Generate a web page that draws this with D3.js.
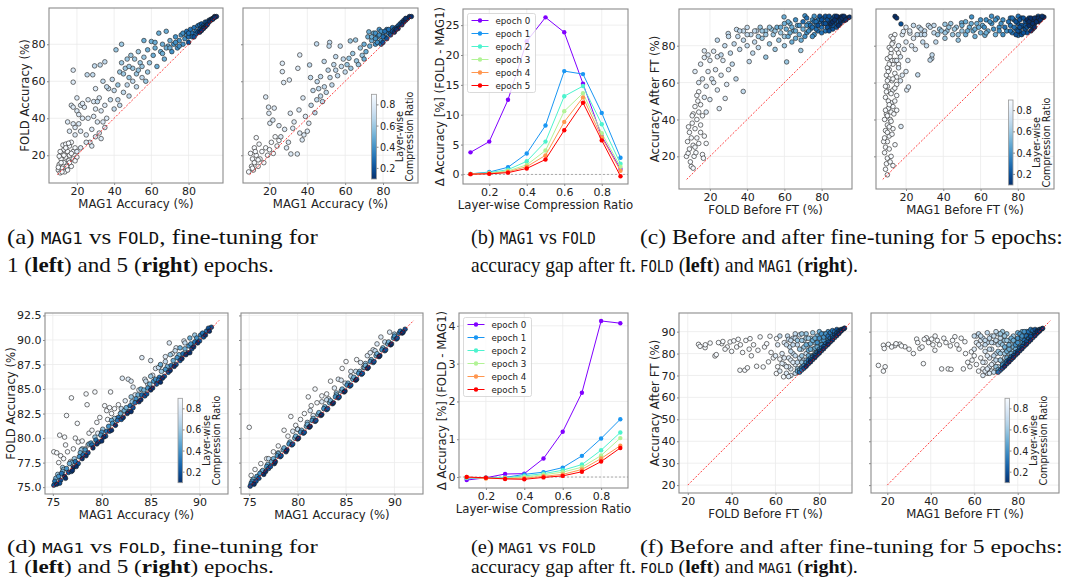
<!DOCTYPE html>
<html>
<head>
<meta charset="utf-8">
<script src="https://cdn.jsdelivr.net/npm/d3@7"></script>
<style>
body { margin: 0; background: #fff; }
svg { display: block; }
text { font-family: 'DejaVu Sans', sans-serif; fill: #222; white-space: pre; }
</style>
</head>
<body>
<div id="fig"></div>
<script>
// ---- data: layer-wise compression ratios and accuracy gaps (FOLD - MAG1) ----
const ratios = [0.1, 0.2, 0.3, 0.4, 0.5, 0.6, 0.7, 0.8, 0.9];
const epochNames = ['epoch 0', 'epoch 1', 'epoch 2', 'epoch 3', 'epoch 4', 'epoch 5'];
const epochColors = ['#8000ff', '#1996f3', '#4df3ce', '#b2f396', '#ff964f', '#ff0000'];

// (b) gap per epoch, top row
const gapTop = [
  [3.7, 5.5, 12.5, 22.3, 26.3, 23.8, 15.2, 6.4, 0.9],
  [0.1, 0.4, 1.2, 3.5, 8.2, 17.3, 16.8, 10.3, 2.8],
  [0.1, 0.3, 0.8, 2.2, 5.5, 13.1, 14.8, 8.4, 1.8],
  [0.1, 0.2, 0.6, 1.6, 4.0, 10.6, 13.6, 6.9, 1.3],
  [0.05, 0.15, 0.45, 1.3, 3.2, 8.8, 12.9, 6.2, 0.6],
  [0.05, 0.1, 0.3, 1.0, 2.5, 7.4, 12.0, 5.7, -0.3]
];
// (e) gap per epoch, bottom row
const gapBottom = [
  [-0.08, -0.02, 0.08, 0.09, 0.49, 1.2, 2.23, 4.13, 4.07],
  [-0.03, -0.02, -0.01, 0.07, 0.13, 0.25, 0.56, 1.02, 1.53],
  [-0.02, -0.02, -0.02, 0.03, 0.09, 0.18, 0.33, 0.71, 1.18],
  [-0.01, -0.03, -0.03, 0.0, 0.06, 0.13, 0.26, 0.57, 1.03],
  [0.0, -0.04, -0.04, -0.03, 0.02, 0.07, 0.2, 0.49, 0.83],
  [0.0, -0.02, -0.05, -0.06, -0.01, 0.03, 0.14, 0.41, 0.77]
];

// scatter points: [x, y, compression ratio]
const aLeftPts = [
  [10,12,.9],[10.5,15,.9],[11,10.5,.9],[11.5,18,.9],[12,13,.9],[12,21,.9],[12.5,25.5,.9],[13,16,.9],[13,23,.9],[13.5,11,.9],
  [14,19,.9],[14,26,.9],[14.5,14,.9],[15,22,.9],[15,12,.9],[15.5,17,.9],[16,25,.9],[16,20,.9],[17,27,.9],[17,14,.9],
  [18,22,.9],[18,18,.9],[19,24,.9],[20,19,.9],[11,22,.9],[13,20,.9],[16,16,.9],[12,11,.9],[10,13.5,.9],[11.5,16,.9],
  [14,24,.9],[17,21,.9],[19,17,.9],[15.5,26.5,.9],[10.5,19.5,.9],
  [15,38,.8],[16,33,.8],[17,47,.8],[18,37,.8],[18,46,.8],[19,35,.8],[20,44,.8],[20,51,.8],[21,42,.8],[22,47,.8],
  [22,33,.8],[23,40,.8],[24,46,.8],[25,31,.8],[26,40,.8],[26,50,.8],[27,27,.8],[28,34,.8],[29,41,.8],[29,49,.8],
  [30,56,.8],[30,30,.8],[31,38,.8],[32,51,.8],[33,44,.8],[34,38,.8],[35,47,.8],[36,40,.8],[28,25,.8],[25,27,.8],
  [22,24,.8],[20,22,.8],[18,66,.8],[18,59.5,.8],[23,48,.8],[19,31,.8],[21,37,.8],[32,32,.8],[33,29,.8],[30,45,.8],[35,35,.8],
  [25.5,63.5,.7],[28.5,63.5,.7],[29.5,68.3,.7],[32.5,68.8,.7],[35,70.5,.7],[34,60,.7],[37,56,.7],[38,50,.7],[39,61,.7],
  [40,55,.7],[40,45,.7],[42,50,.7],[45,54,.7],[47,58,.7],[50,60,.7],[52,57,.7],[55,62,.7],[48,52,.7],[43,47,.7],[36,57,.7],[31,49,.7],
  [41,77,.6],[42,58,.6],[43,65,.6],[44,80,.6],[44,70,.6],[46,67,.6],[47,72,.6],[48,62,.6],[49,74,.6],[50,67,.6],[51,72,.6],
  [52,64,.6],[53,76,.6],[54,70,.6],[55,68,.6],[56,73,.6],[57,60,.6],[59,70,.6],[45,64,.6],[48,68,.6],[53,66,.6],[58,65,.6],
  [56,82,.5],[58,77,.5],[60,81.5,.5],[61,74,.5],[62,78,.5],[63,68,.5],[64,86,.5],[65,76,.5],[66,80,.5],[68,87,.5],[67,72,.5],
  [69,79,.5],[70,82,.5],[62,81,.5],[66,75,.5],[68,78,.5],[70,78,.5],
  [71,76,.4],[72,80,.4],[73,84,.4],[74,78,.4],[75,82,.4],[76,85,.4],[77,80,.4],[78,83,.4],[73,81,.4],[75,79,.4],[77,86,.4],[79,85,.4],
  [79,87,.3],[80,84,.3],[81,88,.3],[82,86,.3],[83,89,.3],[84,87,.3],[85,90,.3],[80,86,.3],[82,84,.3],[84,85.5,.3],[86,90.5,.3],[87,89,.3],
  [86,88,.2],[87,91,.2],[88,90,.2],[89,92,.2],[90,91,.2],[91,93,.2],[83,84,.2],[80,81,.2],[85,86.5,.2],[88,89,.2],[90,92,.2],[92,93.5,.2],
  [92,93,.1],[93,94,.1],[94,95,.1],[95,95,.1],[89,89.5,.1],[86,86.5,.1],[91,92,.1],[88,88.5,.1],[90,90.5,.1],[93,93.5,.1],[94,94.5,.1],[87,87.5,.1]
];
const aRightPts = [
  [9,11,.9],[10,21,.9],[10.5,14,.9],[11,18,.9],[11.5,12,.9],[12,16,.9],[12,24,.9],[13,29.5,.9],[13,20,.9],[14,14,.9],
  [14.5,26,.9],[15,18,.9],[16,22,.9],[17,16,.9],[18,24,.9],[19,20,.9],[20,23,.9],[21,27,.9],[22,21,.9],[23,30,.9],
  [24,25,.9],[25,28,.9],[11,13,.9],[12.5,22,.9],[14,17.5,.9],
  [18,51.5,.8],[19.5,46,.8],[22.5,45.5,.8],[19.7,42.7,.8],[20.2,37.3,.8],[21.8,39,.8],[26.8,69.7,.8],[26.8,65.2,.8],
  [27.5,59.3,.8],[30.5,60.7,.8],[35,67,.8],[36,74.2,.8],[31,42.7,.8],[32.3,34.6,.8],[34.7,20.7,.8],[31.3,20.7,.8],
  [37.7,51,.8],[35.6,44.5,.8],[39,41,.8],[40.8,37.3,.8],[38.2,31,.8],[37.3,28.3,.8],[28,34,.8],[26,30,.8],[30,27,.8],
  [33,38,.8],[25,36,.8],[29,24,.8],[36,32,.8],[40,33,.8],
  [41.2,68.8,.7],[41.7,62,.7],[44.9,80.2,.7],[48.9,70.7,.7],[51.8,81,.7],[51.5,79,.7],[57.4,79,.7],[55,73.3,.7],
  [45.2,59.8,.7],[47,62.5,.7],[43,55,.7],[45,50,.7],[42,47,.7],[44,43,.7],[47,52,.7],[49,57,.7],[50,54,.7],[52,62,.7],
  [53,58,.7],[55,66,.7],[56,63,.7],[58,68,.7],[59,72,.7],[60,65,.7],[46,56,.7],[48,49,.7],[51,66,.7],[54,69,.7],
  [62,72.4,.6],[62.7,81.8,.6],[65.5,82.3,.6],[72.5,86.7,.5],[61,69,.6],[63,67,.6],[64,75,.6],[66,71,.6],[68,78,.6],
  [69,74,.6],[70,80,.5],[71,76,.5],[72,84,.5],[73,79,.5],[74,82,.5],[75,86,.5],[67,69,.6],[70,72,.5],
  [76,80,.4],[77,84,.4],[78,88,.4],[79,82,.4],[80,86,.4],[81,84,.3],[82,88,.3],[83,86,.3],[84,87,.3],[85,89,.3],[76,86,.4],[79,87,.4],
  [86,88,.2],[87,89,.2],[88,90,.2],[89,91,.2],[90,92,.2],[91,92,.1],[92,93,.1],[93,94,.1],[94,95,.1],[95,95,.1],
  [84,85,.2],[82,83,.2],[80,81,.2],[86,86.5,.1],[88,88.5,.1],[90,90.5,.1],[85,87,.2],[87,88,.1],[91,93,.2],[92,94,.1],
  [74,84,.5],[76,83,.4],[78,85,.4],[80,84,.3],[81,87,.3],[83,88,.3],[77,81,.4],[79,80,.3]
];
const cLeftPts = [
  [7.4,20,.9],[8.3,21.7,.9],[8,28,.9],[9,24,.9],[9,33,.9],[10,14.5,.9],[10,30,.9],[10.5,38,.9],[11,13.6,.9],[11,26,.9],
  [11,43,.9],[11.5,20,.9],[12,35,.9],[12,47,.9],[12.5,22,.9],[13,40,.9],[13,30,.9],[13.5,50,.9],[14,27,.9],[14,44,.9],
  [15,37,.9],[15,33,.9],[16,21,.9],[16.5,19,.9],[17,31,.9],[18,27,.9],[9.5,17,.9],[10.5,42,.9],[12,25,.9],[8.5,36,.9],
  [14,55,.9],[13,53,.9],[15,48,.9],[16,42,.9],
  [12,66,.8],[17,77.2,.8],[17,73.6,.8],[15,70,.8],[16,62,.8],[14,60,.8],[18,58,.8],[19,66,.8],[20,50.8,.8],[20,72,.8],
  [21,62,.8],[22,77,.8],[23,67,.8],[24,56,.8],[25,45.9,.8],[26,64,.8],[27,72,.8],[28.2,51.4,.8],[29,59,.8],[30,67,.8],
  [22,60,.8],[18,44,.8],[19,75,.8],[17,52,.8],[24,74,.8],
  [24,83,.7],[29.8,86.6,.7],[34.3,88.8,.7],[40,89.9,.7],[37.9,55.2,.7],[34,62,.7],[41.1,71.4,.7],[31,76,.7],[33,81,.7],
  [35,85,.7],[36,78,.7],[38,83,.7],[40,80,.7],[42,86,.7],[43,76,.7],[44,82,.7],[28,80,.7],[26,75,.7],[32,70,.7],[30,85,.7],[45,88,.7],[46,79,.7],
  [50,73.8,.6],[61.2,71.2,.6],[68.8,77.4,.6],[59.8,95.6,.5],[48,84,.6],[50,88,.6],[52,81,.6],[54,86,.6],[55,78,.6],[56,90,.5],
  [57,83,.6],[58,87,.6],[60,80,.6],[61,89,.5],[62,85,.5],[63,92,.5],[64,82,.5],[65,88,.5],[66,84,.5],[67,91,.5],[68,86,.5],
  [70,89,.5],[53,89,.6],[47,90,.6],
  [71,96.2,.4],[72,87,.4],[73,92,.4],[74,89,.4],[75,94,.4],[76,86,.4],[77,91,.4],[78,88,.3],[79,93,.3],[80,90,.3],[81,95,.3],
  [82,88,.3],[83,92,.3],[84,90,.3],[85,94,.3],[72,91,.4],[76,96,.4],[78,94,.3],
  [84,93,.2],[85,91,.2],[86,95,.2],[87,92,.2],[88,94,.2],[89,93,.2],[90,95,.1],[91,94,.1],[92,95,.1],[93,95,.1],[94,95,.1],
  [95,95.5,.1],[86,89,.2],[88,90,.2],[90,92,.1],[92,93.5,.1],[83,90,.2],[87,96,.2],[89,95.5,.1],[91,96,.1],
  [70,93,.3],[72,95,.3],[74,91,.3],[76,93,.3],[78,91,.2],[79,96,.2],[80,94,.2],[81,92,.2],[82,96,.2],[83,94,.2],[84,96,.2],
  [85,92,.1],[86,93,.1],[87,94,.1],[88,96,.1],[89,91,.1],[90,94,.1],[91,95,.1],[92,96,.1],[93,94,.1],[84,88,.2],[80,87,.3],
  [77,89,.3],[75,90,.3],[82,92,.2],[86,91,.2],[68,91,.4],[66,94,.4],[64,90,.5],[62,93,.5],[60,92,.5],[58,90,.5],[55,88,.6],
  [52,90,.6],[50,86,.6],[48,88,.6],[46,85,.6],[44,88,.7],[40,86,.7],[38,88,.7],[36,88,.7],[60,85,.6],[63,87,.5],[66,88,.5],
  [69,83,.5],[71,85,.4],[73,88,.4],[75,85,.4],[77,93,.3]
];
const cRightPts = [
  [9,13,.9],[9.5,16,.9],[10,19,.9],[8.5,22,.9],[9,25,.9],[10,28,.9],[11,31,.9],[9,34,.9],[10,37,.9],[11.5,40,.9],
  [9.5,43,.9],[10.5,46,.9],[12,49,.9],[9,52,.9],[11,55,.9],[10,58,.9],[12.5,61,.9],[9.5,64,.9],[11,67,.9],[13,70,.9],
  [10,73,.9],[12,76,.9],[11,79,.9],[13,82,.9],[12,85,.9],[14.1,26.3,.9],[12,20,.9],[11,24,.9],[13,35,.9],[12,44,.9],
  [14,50,.9],[13,56,.9],[15,59,.9],[14,65,.9],[12.5,72,.9],[15,78,.9],[14,86,.9],[8,28,.9],[10.5,50,.9],[11,62,.9],
  [13.5,43,.9],[15,53,.9],[12.5,32,.9],[10,68,.9],[8.5,40,.9],[11.5,17,.9],[10,10,.9],[13,15,.9],
  [8.5,30,.9],[9,45,.9],[9.5,55,.9],[10,61,.9],[10.5,66,.9],[11,70,.9],[11.5,74,.9],[12,78,.9],[12.5,81,.9],[13,84,.9],
  [10,33,.9],[11,36,.9],[12,39,.9],[13,47,.9],[14,57,.9],[15,63,.9],[16,70,.9],[16,76,.9],[14,72,.9],[13,62,.9],
  [11,48,.9],[9,58,.9],[12,54,.9],[15,45,.9],[10,42,.9],
  [17.3,36.2,.8],[20.4,56,.8],[21.3,57.6,.8],[16,80,.8],[17,74,.8],[18,86,.8],[18.6,87.7,.8],[19,78,.8],[20,82,.8],
  [21,72,.8],[22.1,86.8,.8],[23,80,.8],[16,68,.8],[18,64,.8],[24,84,.8],[25,78,.8],[26.3,64.2,.7],[17,61,.8],[15,72,.8],[20,66,.8],
  [14.1,95.9,.1],[15,95,.1],[17.3,91.8,.2],
  [32,91,.7],[40.9,91.6,.6],[33.8,73.1,.7],[32.9,72.2,.7],[34,75,.7],[40.9,84,.6],[48,83,.6],[28,86,.7],[30,88,.7],
  [35,87,.7],[38,89,.6],[42,88,.6],[45,86,.6],[47,90,.6],[29,82,.7],[31,80,.7],[36,82,.7],[27,90,.7],[50,88,.6],[44,92,.6],
  [49.8,92.4,.5],[55.2,95.6,.4],[62.3,85.6,.5],[52,86,.5],[54,90,.5],[56,88,.5],[58,92,.5],[60,87,.5],[61,91,.5],
  [63,94,.4],[64,88,.5],[66,92,.4],[68,86,.5],[70,90,.4],[72,94,.4],[74,88,.4],[65.9,96,.4],[57,85,.5],[69,95,.4],
  [80.2,96,.3],[90.9,96,.2],[80.2,85.6,.3],[76,91,.3],[77,87,.3],[78,94,.3],[79,89,.3],[80,92,.2],[81,88,.2],[82,95,.2],
  [83,90,.2],[84,93,.2],[85,87,.2],[86,95,.2],[87,91,.2],[88,94,.1],[89,92,.1],[90,95,.1],[91,93,.1],[92,95,.1],
  [93,95,.1],[94,95.5,.1],[84,89,.2],[86,91,.1],[88,89,.1],[76,95,.3],[82,86,.2],
  [20,90,.8],[22,88,.8],[24,91,.7],[26,86,.7],[28,89,.7],[30,86,.7],[33,90,.7],[35,91,.7],[37,86,.6],[39,88,.6],
  [41,87,.6],[43,90,.6],[46,89,.6],[48,86,.6],[50,91,.5],[52,93,.5],[53,88,.5],[55,92,.5],[57,89,.5],[59,90,.5],
  [60,94,.4],[62,90,.4],[63,87,.5],[65,93,.4],[67,89,.4],[68,94,.4],[70,88,.4],[71,92,.4],[72,86,.4],[73,90,.3],
  [75,93,.3],[76,88,.3],[77,95,.3],[78,90,.3],[79,93,.2],[80,88,.2],[81,94,.2],[82,91,.2],[83,95,.2],[84,91,.2],
  [85,94,.1],[86,93,.1],[87,95,.1],[88,92,.1],[89,95,.1],[90,93,.1],[91,95,.1],[92,94,.1],[93,96,.1],[85,90,.2],
  [87,88,.1],[89,90,.1],[83,87,.2],[79,86,.2],[81,90,.2]
];
const dLeftPts = [
  [76.9,84.1,.9],[78.4,84.5,.9],[79.3,84.7,.9],[78.5,83.4,.9],[76.4,82.3,.9],[75.7,80.3,.9],[76.2,80.1,.9],[77.5,81.5,.9],
  [78.7,80.5,.9],[75.1,78.6,.9],[75.4,78.5,.9],[75.8,78.2,.9],[76.1,77.9,.9],[76.5,78.6,.9],[76.8,77.6,.9],[77.1,78.9,.9],
  [77.3,80,.9],[77.6,79.6,.9],[77.9,78.4,.9],[76.3,79.3,.9],[75.6,77.5,.9],[77,77.3,.9],[78,79.7,.9],[78.3,78.9,.9],
  [79,80.8,.9],[79.5,81.6,.9],[80.3,83.3,.9],[80.9,84.7,.9],[80.5,82.8,.9],[80.8,83.1,.9],[81,82.5,.9],[81.3,83,.9],
  [81.5,82,.9],[81.7,83.4,.9],[80.6,81.9,.9],[82,82.6,.9],[79.8,82.1,.9],
  [82.1,86.1,.8],[82.7,86,.8],[83,85.8,.8],[83.2,85.2,.8],[83.4,84.4,.8],[83.8,84.9,.8],[84.1,88.2,.8],[85,87.9,.8],
  [86.9,89.7,.8],[88.4,89.9,.8],[84.4,86,.8],[84.7,85.5,.8],[85.2,86.4,.8],[85.5,87.1,.8],[86,87.4,.8],[86.5,88.3,.8],
  [87.2,88.6,.8],[87.6,89.2,.8],[82.4,83.8,.8],[79.6,80.5,.8],[78.6,79.3,.8],
  [75.1,75.2,.2],[75.3,75.9,.5],[75.4,75.3,.1],[75.6,76.1,.4],[75.8,75.7,.2],[76,76.6,.5],[76.2,76.1,.1],[76.4,76.9,.4],
  [76.6,76.5,.2],[76.9,77.5,.5],[77.1,77,.1],[77.3,77.6,.3],[77.6,77.4,.2],[77.8,78.5,.5],[78,77.9,.1],[78.3,78.8,.4],
  [78.6,78.5,.2],[78.9,79.5,.4],[79.1,79,.1],[79.4,79.8,.3],[79.7,79.6,.2],[80,80.6,.4],[80.2,80.1,.1],[80.5,80.7,.3],
  [80.8,80.7,.2],[81.1,81.5,.4],[81.4,81.3,.1],[81.7,82.1,.3],[82,81.9,.2],[82.3,82.8,.5],[82.6,82.5,.1],[82.9,83.3,.3],
  [83.2,83.1,.2],[83.5,84,.4],[83.8,83.7,.1],[84.1,84.4,.3],[84.4,84.3,.2],[84.7,85.1,.4],[85,84.9,.1],[85.3,85.8,.4],
  [85.6,85.5,.2],[85.9,86.2,.3],[86.2,86.1,.1],[86.5,87,.4],[86.8,86.7,.2],[87.1,87.4,.3],[87.4,87.3,.1],[87.7,88.2,.4],
  [88,87.9,.2],[88.3,88.6,.3],[88.6,88.5,.1],[88.9,89.4,.4],[89.2,89.1,.2],[89.5,89.8,.3],[89.8,89.7,.1],[90.1,90.5,.3],
  [90.4,90.3,.2],[90.7,90.9,.3],[91,90.9,.1],[91.2,91.3,.2],[84,85,.5],[86,87.5,.5],[88,89.2,.5],[87,88.5,.6],[89,90.2,.5],
  [85,86.3,.6],[83,84.2,.6],[81,81.8,.5],[78,78.9,.6],[76,77,.6],[77,76.7,.1],[80,79.7,.1],[83,82.7,.1],[86,85.7,.1],[89,88.7,.1],
  [75.2,75.6,.3],[75.5,76.3,.6],[75.7,75.4,.2],[75.9,76.4,.3],[76.1,76.8,.6],[76.3,75.9,.1],[76.7,77.4,.5],[76.9,76.6,.2],
  [77.2,77.9,.6],[77.4,77.1,.1],[77.7,78.1,.4],[77.9,78.8,.6],[78.1,78.3,.3],[78.4,78.2,.1],[78.7,79.4,.5],[79,79.3,.3],
  [79.3,80.1,.6],[79.5,79.4,.1],[79.9,80.3,.4],[80.1,80.9,.6],[80.4,80.2,.2],[80.7,81.2,.4],[81,80.8,.1],[81.3,82,.6],
  [81.6,81.8,.3],[81.9,82.5,.5],[82.2,82.1,.1],[82.5,83.1,.5],[82.8,82.7,.2],[83.1,83.7,.6],[83.4,83.6,.3],[83.7,84.4,.5],
  [84,83.9,.1],[84.3,84.9,.5],[84.6,84.5,.2],[84.9,85.5,.5],[85.2,85.1,.1],[85.5,86,.4],[85.8,85.9,.3],[86.1,86.8,.6],
  [86.4,86.3,.2],[86.7,87.3,.5],[87,86.9,.1],[87.3,87.9,.5],[87.6,87.5,.2],[87.9,88.5,.5],[88.2,88.1,.1],[88.5,89.1,.5],
  [88.8,88.7,.2],[89.1,89.6,.4],[89.4,89.3,.1],[89.7,90.2,.4],[90,89.9,.2],[90.3,90.7,.3],[90.6,90.5,.1],[90.9,91.2,.2],
  [82,83,.7],[84.5,85.8,.7],[86.5,87.8,.7],[88.5,89.7,.7],[85.8,87.2,.7],[87.5,88.9,.7],[89.5,90.5,.6]
];
const dRightPts = [
  [75,81.1,.9],[78.6,80.8,.9],[79.3,82.2,.9],[81.1,84.2,.9],[81.8,85,.9],[83.4,85.8,.9],[84.6,87.1,.9],[85,87.8,.9],
  [86.1,88,.9],[88.6,90.3,.8],[89.5,90.8,.8],[75.2,76.2,.9],[75.6,76.8,.9],[76.2,77.4,.9],[76.8,77.9,.9],[77.5,78.6,.9],
  [78,79.2,.9],[79,80.2,.9],[79.8,81.3,.9],[80.3,81.9,.9],[80.7,82.5,.9],[81.4,83.3,.9],[82,83.6,.9],[82.5,84.3,.9],
  [83,84.5,.9],[83.8,85.1,.8],[84.2,86,.8],[85.5,86.8,.8],[86.5,87.7,.8],[87.2,88.4,.8],[87.8,89,.8],[88.2,89.6,.8],
  [80,80.9,.8],[81.6,82.3,.8],[83.2,84,.8],[84.9,85.6,.8],[86.8,87.2,.8],
  [75.1,75.1,.2],[75.3,75.6,.4],[75.5,75.3,.1],[75.8,76.1,.4],[76,75.9,.2],[76.3,76.6,.5],[76.5,76.3,.1],[76.8,77.1,.4],
  [77,76.9,.2],[77.3,77.6,.5],[77.6,77.4,.1],[77.9,78.2,.4],[78.2,78.1,.2],[78.5,78.8,.5],[78.8,78.6,.1],[79.1,79.4,.4],
  [79.4,79.3,.2],[79.7,80,.5],[80,79.9,.1],[80.3,80.6,.4],[80.6,80.5,.2],[80.9,81.2,.5],[81.2,81.1,.1],[81.5,81.8,.4],
  [81.8,81.7,.2],[82.1,82.4,.5],[82.4,82.3,.1],[82.7,83,.4],[83,82.9,.2],[83.3,83.6,.5],[83.6,83.5,.1],[83.9,84.2,.4],
  [84.2,84.1,.2],[84.5,84.8,.5],[84.8,84.7,.1],[85.1,85.4,.4],[85.4,85.3,.2],[85.7,86,.5],[86,85.9,.1],[86.3,86.6,.4],
  [86.6,86.5,.2],[86.9,87.2,.5],[87.2,87.1,.1],[87.5,87.8,.4],[87.8,87.7,.2],[88.1,88.4,.5],[88.4,88.3,.1],[88.7,89,.4],
  [89,88.9,.2],[89.3,89.6,.5],[89.6,89.5,.1],[89.9,90.2,.4],[90.2,90.1,.2],[90.5,90.7,.3],[90.8,90.7,.1],[91.1,91.1,.2],
  [77,77.9,.7],[80,80.9,.7],[83,83.9,.7],[86,86.8,.7],[89,89.8,.7],[78,78.5,.6],[81,81.6,.6],[84,84.6,.6],[87,87.6,.6],[90,90.6,.6],
  [75.2,75.4,.3],[75.4,75.8,.5],[75.7,75.6,.2],[76.1,76.4,.4],[76.4,76.7,.5],[76.7,76.6,.1],[76.9,77.3,.5],[77.2,77.1,.2],
  [77.5,77.9,.5],[77.7,77.6,.1],[78,78.4,.5],[78.3,78.2,.2],[78.6,79,.5],[78.9,78.8,.1],[79.2,79.6,.5],[79.5,79.4,.2],
  [79.8,80.2,.5],[80.1,80,.1],[80.4,80.8,.5],[80.7,80.6,.2],[81,81.4,.5],[81.3,81.2,.1],[81.6,82,.5],[81.9,81.8,.2],
  [82.2,82.6,.5],[82.5,82.4,.1],[82.8,83.2,.5],[83.1,83,.2],[83.4,83.8,.5],[83.7,83.6,.1],[84,84.4,.5],[84.3,84.2,.2],
  [84.6,85,.5],[84.9,84.8,.1],[85.2,85.6,.5],[85.5,85.4,.2],[85.8,86.2,.5],[86.1,86,.1],[86.4,86.8,.5],[86.7,86.6,.2],
  [87,87.4,.5],[87.3,87.2,.1],[87.6,88,.5],[87.9,87.8,.2],[88.2,88.6,.5],[88.5,88.4,.1],[88.8,89.2,.5],[89.1,89,.2],
  [89.4,89.8,.5],[89.7,89.6,.1],[90,90.4,.4],[90.3,90.2,.2],[90.6,90.9,.3],[90.9,90.8,.1],[82.5,83.7,.8],[85.5,86.3,.7],
  [88,88.9,.7],[84.5,85.9,.8],[87.5,88.7,.8],[79.5,80.7,.8],[81.3,82.8,.8]
];
const fLeftPts = [
  [24.9,84.2,.9],[25.6,83.3,.9],[27.9,82.7,.9],[30.2,84.8,.9],[32.4,78.9,.9],[33,79.5,.9],[35.5,84.5,.9],[36,85.5,.9],
  [39.3,85.3,.9],[38,83,.9],[40,81,.9],[42.3,83,.9],[41,85.8,.9],[43.8,72.4,.9],[46,72.4,.9],[47.2,73.5,.9],[44,84,.9],
  [45,80.5,.9],[46.5,86,.9],[48.4,86.8,.9],[48,82,.9],[50,84,.9],[51.4,74.2,.9],[52,81.5,.9],[53,87.6,.9],[54.4,73.9,.9],
  [55,83,.9],[56.8,76.2,.9],[57.5,87.9,.9],[58,80.5,.9],[60.5,86.8,.9],[60.4,70.9,.9],[63.7,69.4,.9],[59,78,.9],[61,74,.9],
  [62,77.5,.9],[28,84,.9],[34,85,.9],[37,82,.9],[43,86.5,.9],[49,79,.9],[56,84.5,.9],
  [62,72,.8],[63,80,.8],[64,85,.8],[64,75,.8],[65,71,.8],[65.5,88,.7],[66,78,.8],[66.5,83,.7],[67,73,.8],[68,87,.7],
  [68,80,.7],[69,75,.8],[70,84,.7],[70,71.5,.8],[71,88.5,.7],[71,78,.7],[72,82,.7],[72,74,.7],[73,86,.7],[73,77,.7],
  [74,80,.7],[74,89,.6],[75,84,.6],[75,76.5,.6],[76,87,.6],[76,79,.6],[77,82,.6],[77,89.5,.6],[78,85,.6],[78,80,.6],
  [62,88,.7],[66,86.5,.7],[69,89,.7],[63,75.5,.8],[67,77,.8],[61,84,.8],[60,79,.8],
  [79,88,.5],[79,81,.5],[80,84,.5],[80,90,.5],[81,86,.5],[81,82,.4],[82,89,.5],[82,84,.4],[83,87,.4],[83,85,.4],[84,90,.4],
  [84,86,.4],[85,88,.4],[85,86,.3],[86,89.5,.4],[86,87.5,.3],[87,89,.3],[87,88,.3],[76,78,.4],[74,75.5,.4],[72,73.5,.4],
  [70,72,.5],[78,79.5,.4],[80,81.5,.4],
  [64,78,.8],[65,84,.7],[66,74,.8],[67,81,.7],[67,86,.7],[68,76,.8],[68,84,.7],[69,79,.7],[69,87,.7],[70,76,.7],
  [70,86,.6],[71,73,.7],[71,82,.6],[72,79,.6],[72,86,.6],[72,89,.6],[73,75,.6],[73,83,.6],[74,77,.6],[74,84,.5],
  [74,87,.6],[75,79,.5],[75,81.5,.5],[75,87,.6],[76,82,.5],[76,84.5,.5],[77,79,.5],[77,86,.5],[78,82.5,.5],[78,87,.5],
  [79,83,.5],[79,85,.4],[80,82,.4],[80,87,.4],[81,84,.4],[81,89,.4],[82,86,.4],[82,87.5,.4],[83,84,.3],[83,89,.4],
  [84,88,.3],[84,85,.3],[85,87,.3],[85,89.5,.3],[86,88,.3],[86,90.5,.3],[87,88.5,.2],[87,90,.3],[88,89.5,.2],[88,91,.2],
  [89,90.5,.2],[90,91,.2],[74,76,.4],[75,77,.3],[77,78.5,.3],[79,80.5,.3],[81,82.5,.3],[83,84.6,.3],[73,74.5,.4],
  [71,72.5,.5],[70,73,.6],[69,71,.7],[67,70,.8],[65,74,.8],[66,69.5,.8],[72,76,.6],
  [73,73.3,.2],[74,74.2,.1],[75,75.3,.2],[76,76.2,.1],[77,77.3,.2],[78,78.2,.1],[79,79.3,.2],[80,80.2,.1],[81,81.3,.2],
  [82,82.2,.1],[83,83.3,.2],[84,84.2,.1],[85,85.3,.2],[86,86.2,.1],[87,87.3,.2],[88,88.2,.1],[88,89.3,.2],[89,89.2,.1],
  [89,90,.2],[90,90.3,.1],[90,90.8,.2],[91,91.2,.1],[91.5,91.6,.1],[86,87,.2],[84,85.2,.2],[82,83.2,.2],[80,81,.2],
  [78,79,.2],[76,77,.2],[71,71.5,.3],[72,72.5,.3],[89,89.8,.3],[88,88.8,.3]
];
const fRightPts = [
  [15.9,74.6,.9],[18.2,72,.9],[19,74,.9],[18.2,83.8,.9],[18.6,82.3,.9],[20.5,84.2,.9],[23.5,83.6,.9],[25.8,84.3,.9],
  [28.1,83.1,.9],[22,83,.9],[24,84.5,.9],[26.5,83.5,.9],[33.5,86.6,.9],[35,82.3,.9],[36.6,75.4,.9],[38,87.2,.9],
  [40.4,86.6,.9],[41.9,81.5,.9],[45,73,.9],[48,73,.9],[49.3,72.8,.9],[51.1,87.7,.9],[55.7,85.4,.9],[55,73,.9],
  [58.7,80.8,.9],[34,85,.9],[37,86.5,.9],[39,85,.9],[42,88,.9],[43,86,.9],[44,84,.9],[46,87,.9],[47,85,.9],[49,83.5,.9],
  [50,86,.9],[52,84,.9],[53,82,.9],[54,87,.9],[56,80,.9],[57,76,.9],[58,74,.9],[59,77,.9],[60,79,.9],[61,75,.9],
  [62,72,.9],[63,78,.9],[64,73,.9],[65,76,.9],[36,83,.9],[41,84,.9],[32,80,.9],[30,82,.9],
  [60,88,.7],[61,85,.8],[62,89,.7],[63,83,.8],[64,87,.7],[65,81,.8],[66,89.5,.7],[66,85,.7],[67,78,.8],[67,74,.8],
  [68,88,.7],[68,82,.7],[69,76,.8],[69,85,.7],[70,73,.8],[70,80,.7],[71,89,.7],[71,84,.7],[72,77,.7],[72,87,.7],
  [73,74.5,.7],[73,81,.7],[74,86,.6],[74,78,.7],[75,89,.6],[75,83,.6],[76,80,.6],[76,86,.6],[77,77.5,.6],[77,84,.6],
  [78,88,.6],[78,81,.6],[66,71,.8],[68,72,.8],[64,70,.8],[70,90,.7],[73,90,.6],[63,88,.7],[65,86,.7],
  [79,86,.5],[79,79.8,.5],[80,83,.5],[80,89.5,.5],[81,87,.5],[81,81.6,.4],[82,85,.4],[82,90,.5],[83,88,.4],[83,84,.4],
  [84,86.5,.4],[84,90,.4],[85,88,.4],[85,85.8,.3],[86,90,.4],[86,87,.3],[87,89,.3],[87,88,.3],[88,90.5,.3],[75,76,.4],
  [76,77.2,.4],[77,78,.4],[78,79,.4],[80,80.8,.4],
  [64,76,.8],[65,84,.7],[66,79,.8],[67,82,.7],[67,87,.7],[68,75,.8],[68,85,.7],[69,79,.7],[69,88,.7],[70,77,.7],
  [70,86,.7],[71,74,.7],[71,81,.6],[72,80,.6],[72,85,.6],[72,89,.6],[73,76,.6],[73,84,.6],[74,80,.6],[74,83,.5],
  [74,88,.6],[75,78,.5],[75,81,.5],[75,86,.6],[76,82,.5],[76,84,.5],[77,80,.5],[77,87,.5],[78,83,.5],[78,86,.5],
  [79,82,.5],[79,84,.4],[80,85,.4],[80,87,.4],[81,83,.4],[81,89,.4],[82,87,.4],[82,88,.4],[83,86,.3],[83,90,.4],
  [84,88,.3],[84,85,.3],[85,87,.3],[85,90,.3],[86,88.5,.3],[86,91,.3],[87,88,.2],[87,90.5,.3],[88,89.5,.2],[88,91,.2],
  [89,90.5,.2],[90,91,.2],[74,75.5,.4],[75,76.5,.3],[77,78.5,.3],[79,80.5,.3],[81,82.5,.3],[83,84.5,.3],[73,74.8,.4],
  [71,72.7,.5],[70,74,.6],[69,71.5,.7],[67,71,.8],[65,72,.8],[66,73,.8],[72,77,.6],[62,84,.8],[63,86,.8],[61,88,.8],[60,82,.8],
  [73,73.3,.2],[74,74.2,.1],[75,75.3,.2],[76,76.2,.1],[77,77.3,.2],[78,78.2,.1],[79,79.3,.2],[80,80.2,.1],[81,81.3,.2],
  [82,82.2,.1],[83,83.3,.2],[84,84.2,.1],[85,85.3,.2],[86,86.2,.1],[87,87.3,.2],[88,88.2,.1],[89,89.3,.2],[89,90,.1],
  [90,90.2,.1],[90,90.8,.2],[91,91.2,.1],[91.5,91.5,.1],[86,87.8,.2],[84,85.3,.2],[82,83.2,.2],[80,81,.2],[78,79,.2],
  [76,77,.2],[72,72.4,.3],[71,71.5,.3],[89,89.8,.3],[88,89,.3],[85,86.5,.3],[83,84.5,.3]
];

const ticks20 = [20, 40, 60, 80];
const ticksD = [75, 77.5, 80, 82.5, 85, 87.5, 90, 92.5];
const ticksDx = [75, 80, 85, 90];
const ticksF = [20, 30, 40, 50, 60, 70, 80, 90];
const ticksRatio = [0.2, 0.4, 0.6, 0.8];
const cbarTicks = [0.2, 0.4, 0.6, 0.8];

// ---- drawing ----
const svg = d3.select('#fig').append('svg').attr('width', 1070).attr('height', 578);
const defs = svg.append('defs');
const grad = defs.append('linearGradient').attr('id', 'bluesR')
  .attr('x1', 0).attr('y1', 1).attr('x2', 0).attr('y2', 0);
d3.range(0, 11).forEach(i => {
  grad.append('stop').attr('offset', i / 10).attr('stop-color', d3.interpolateBlues(1 - i / 10));
});
// Blues_r mapped on [0.1, 0.9]
const ratioColor = r => d3.interpolateBlues(1 - (r - 0.1) / 0.8);

function axesBox(o) {
  // o.box = [left, top, right, bottom]
  const [l, t, r, b] = o.box;
  const x = d3.scaleLinear().domain(o.xDom).range([l, r]);
  const y = d3.scaleLinear().domain(o.yDom).range([b, t]);
  const g = svg.append('g');

  // grid
  g.append('g').selectAll('line').data(o.xTicks).enter().append('line')
    .attr('x1', d => x(d)).attr('x2', d => x(d)).attr('y1', t).attr('y2', b)
    .attr('stroke', '#ebebeb').attr('stroke-width', 0.8);
  g.append('g').selectAll('line').data(o.yTicks).enter().append('line')
    .attr('y1', d => y(d)).attr('y2', d => y(d)).attr('x1', l).attr('x2', r)
    .attr('stroke', '#ebebeb').attr('stroke-width', 0.8);

  // axes
  const xa = g.append('g').attr('transform', `translate(0,${b})`)
    .call(d3.axisBottom(x).tickValues(o.xTicks).tickSize(2).tickPadding(2).tickFormat(o.xFmt || d3.format('d')));
  const ya = g.append('g').attr('transform', `translate(${l},0)`)
    .call(d3.axisLeft(y).tickValues(o.yTicks).tickSize(2).tickPadding(1.5)
      .tickFormat(o.yLabels === false ? '' : (o.yFmt || d3.format('d'))));
  [xa, ya].forEach(a => {
    a.select('.domain').remove();
    a.selectAll('.tick line').attr('stroke', '#888');
    a.selectAll('.tick text').attr('font-size', 11).attr('fill', '#222')
      .attr('font-family', 'DejaVu Sans');
  });

  const plot = g.append('g');
  g.append('rect').attr('x', l).attr('y', t).attr('width', r - l).attr('height', b - t)
    .attr('fill', 'none').attr('stroke', '#8c8c8c').attr('stroke-width', 1.1);

  if (o.xLabel) {
    g.append('text').attr('x', (l + r) / 2).attr('y', b + 24.5).attr('text-anchor', 'middle')
      .attr('font-size', 11.7).text(o.xLabel);
  }
  if (o.yLabel) {
    g.append('text').attr('transform', `translate(${o.yLabelX},${(t + b) / 2}) rotate(-90)`)
      .attr('text-anchor', 'middle').attr('dominant-baseline', 'central')
      .attr('font-size', 11.7).text(o.yLabel);
  }
  return { x, y, g: plot };
}

function scatterPanel(o) {
  const { x, y, g } = axesBox(o);
  const pts = o.points.slice().sort((a, b) => b[2] - a[2]);
  g.selectAll('circle').data(pts).enter().append('circle')
    .attr('cx', d => x(d[0])).attr('cy', d => y(d[1])).attr('r', 2.3)
    .attr('fill', d => ratioColor(d[2]))
    .attr('stroke', '#1a1a1a').attr('stroke-width', 0.6);
  // y = x reference
  g.append('line')
    .attr('x1', x(o.diag[0])).attr('y1', y(o.diag[0]))
    .attr('x2', x(o.diag[1])).attr('y2', y(o.diag[1]))
    .attr('stroke', '#ff0000').attr('stroke-opacity', 0.75).attr('stroke-width', 1)
    .attr('stroke-dasharray', '2,1.6');
  if (o.cbar) colorbar(o.cbar);
}

function colorbar(c) {
  const [bx, by, bw, bh] = c;
  const s = d3.scaleLinear().domain([0.1, 0.9]).range([by + bh, by]);
  const g = svg.append('g');
  g.append('rect').attr('x', bx).attr('y', by).attr('width', bw).attr('height', bh)
    .attr('fill', 'url(#bluesR)').attr('stroke', '#999').attr('stroke-width', 0.8);
  const tk = g.selectAll('g.tk').data(cbarTicks).enter().append('g').attr('class', 'tk');
  tk.append('line').attr('x1', bx + bw).attr('x2', bx + bw + 2)
    .attr('y1', d => s(d)).attr('y2', d => s(d)).attr('stroke', '#888');
  tk.append('text').attr('x', bx + bw + 3.5).attr('y', d => s(d)).attr('dominant-baseline', 'central')
    .attr('font-size', 9.6).text(d => d3.format('.1f')(d));
  const cy = by + bh / 2;
  [['Layer-wise', 28], ['Compression Ratio', 38]].forEach(([txt, dx]) => {
    g.append('text').attr('transform', `translate(${bx + dx},${cy}) rotate(-90)`)
      .attr('text-anchor', 'middle').attr('dominant-baseline', 'central')
      .attr('font-size', 9.6).text(txt);
  });
}

function linePanel(o) {
  const { x, y, g } = axesBox(o);
  const [l, t, r] = o.box;
  g.append('line').attr('x1', l).attr('x2', r).attr('y1', y(0)).attr('y2', y(0))
    .attr('stroke', '#999').attr('stroke-width', 0.8).attr('stroke-dasharray', '2,2');
  const line = d3.line().x((d, i) => x(ratios[i])).y(d => y(d));
  o.series.forEach((s, k) => {
    g.append('path').attr('d', line(s)).attr('fill', 'none')
      .attr('stroke', epochColors[k]).attr('stroke-width', 1);
    g.selectAll(null).data(s).enter().append('circle')
      .attr('cx', (d, i) => x(ratios[i])).attr('cy', d => y(d)).attr('r', 2.2)
      .attr('fill', epochColors[k]);
  });
  // legend
  const lx = l + 4.5, ly = t + 4.5;
  const lg = svg.append('g');
  lg.append('rect').attr('x', lx).attr('y', ly).attr('width', 68).attr('height', 79).attr('rx', 2)
    .attr('fill', '#fff').attr('fill-opacity', 0.8).attr('stroke', '#d0d0d0').attr('stroke-width', 0.8);
  epochNames.forEach((nm, k) => {
    const yy = ly + 7 + 13 * k;
    lg.append('line').attr('x1', lx + 4).attr('x2', lx + 21).attr('y1', yy).attr('y2', yy)
      .attr('stroke', epochColors[k]).attr('stroke-width', 1);
    lg.append('circle').attr('cx', lx + 12.5).attr('cy', yy).attr('r', 2.2).attr('fill', epochColors[k]);
    lg.append('text').attr('x', lx + 28).attr('y', yy).attr('dominant-baseline', 'central')
      .attr('font-size', 8.7).text(nm);
  });
}

// ---- top row ----
scatterPanel({ box: [49, 8, 223, 183], xDom: [5, 98.5], yDom: [5, 99.6], xTicks: ticks20, yTicks: ticks20,
  points: aLeftPts, diag: [9.5, 95], xLabel: 'MAG1 Accuracy (%)', yLabel: 'FOLD Accuracy (%)', yLabelX: 25 });
scatterPanel({ box: [243, 8, 418, 183], xDom: [6, 98.5], yDom: [5, 99.6], xTicks: ticks20, yTicks: ticks20,
  yLabels: false, points: aRightPts, diag: [9.5, 95], xLabel: 'MAG1 Accuracy (%)', cbar: [371.5, 94.3, 5, 84.7] });
linePanel({ box: [463, 9, 628, 184], xDom: [0.06, 0.94], yDom: [-1.6, 27.7], xTicks: ticksRatio, yTicks: [0, 5, 10, 15, 20, 25],
  xFmt: d3.format('.1f'), series: gapTop, xLabel: 'Layer-wise Compression Ratio',
  yLabel: 'Δ Accuracy [%] (FOLD - MAG1)', yLabelX: 440 });
scatterPanel({ box: [679, 9, 852, 189], xDom: [3.4, 96.3], yDom: [2.3, 99.9], xTicks: ticks20, yTicks: ticks20,
  points: cLeftPts, diag: [7.5, 95], xLabel: 'FOLD Before FT (%)', yLabel: 'Accuracy After FT (%)', yLabelX: 655 });
scatterPanel({ box: [876, 9, 1054, 189], xDom: [3.9, 99.4], yDom: [2.3, 99.9], xTicks: ticks20, yTicks: ticks20,
  yLabels: false, points: cRightPts, diag: [7.5, 95], xLabel: 'MAG1 Before FT (%)', cbar: [1008.5, 100, 4.5, 85] });

// ---- bottom row ----
scatterPanel({ box: [45, 313, 228, 494], xDom: [74.2, 92.9], yDom: [74.3, 92.75], xTicks: ticksDx, yTicks: ticksD,
  yFmt: d3.format('.1f'), points: dLeftPts, diag: [75, 92], xLabel: 'MAG1 Accuracy (%)', yLabel: 'FOLD Accuracy (%)',
  yLabelX: 11, cbar: [178, 398.3, 4.5, 84.4] });
scatterPanel({ box: [241, 313, 423, 494], xDom: [74.15, 92.95], yDom: [74.3, 92.75], xTicks: ticksDx, yTicks: ticksD,
  yLabels: false, points: dRightPts, diag: [75, 92], xLabel: 'MAG1 Accuracy (%)' });
linePanel({ box: [459, 313, 628, 488], xDom: [0.06, 0.94], yDom: [-0.29, 4.34], xTicks: ticksRatio, yTicks: [0, 1, 2, 3, 4],
  xFmt: d3.format('.1f'), series: gapBottom, xLabel: 'Layer-wise Compression Ratio',
  yLabel: 'Δ Accuracy [%] (FOLD - MAG1)', yLabelX: 442 });
scatterPanel({ box: [679, 313, 852, 493], xDom: [16, 94.9], yDom: [16.4, 98.5], xTicks: ticks20, yTicks: ticksF,
  points: fLeftPts, diag: [20, 94], xLabel: 'FOLD Before FT (%)', yLabel: 'Accuracy After FT (%)', yLabelX: 655 });
scatterPanel({ box: [871, 313, 1059, 493], xDom: [12.5, 99], yDom: [16.4, 98.5], xTicks: ticks20, yTicks: ticksF,
  yLabels: false, points: fRightPts, diag: [20, 95], xLabel: 'MAG1 Before FT (%)', cbar: [1005, 398.3, 4.5, 84.4] });

// ---- captions (each line squeezed to the width it has in the figure) ----
function caption(x, y, width, sy, parts) {
  const g = svg.append('g');
  const t = g.append('text').attr('x', 0).attr('y', 0);
  parts.forEach(([s, k]) => {
    t.append('tspan').text(s)
      .attr('font-family', k === 'm' ? 'DejaVu Sans Mono' : 'Liberation Serif')
      .attr('font-size', k === 'm' ? 15 : 21.5)
      .attr('font-weight', k === 'b' ? 'bold' : 'normal')
      .attr('fill', '#111');
  });
  const w = t.node().getComputedTextLength();
  g.attr('transform', `translate(${x},${y}) scale(${width / w},${sy})`);
}
const vsParts = lbl => [[`(${lbl}) `], ['MAG1', 'm'], [' vs '], ['FOLD', 'm']];
const epochsLine = [['1 ('], ['left', 'b'], [') and 5 ('], ['right', 'b'], [') epochs.']];
const ftLine = [['FOLD', 'm'], [' ('], ['left', 'b'], [') and '], ['MAG1', 'm'], [' ('], ['right', 'b'], [').']];

caption(7, 244, 311, 1, vsParts('a').concat([[', fine-tuning for']]));
caption(7, 272, 267, 1, epochsLine);
caption(471, 244, 125, 1, vsParts('b'));
caption(471, 272, 165, 1, [['accuracy gap after ft.']]);
caption(640, 244, 423, 1, [['(c) Before and after fine-tuning for 5 epochs:']]);
caption(640, 272, 218, 1, ftLine);

caption(7, 553, 311, 0.88, vsParts('d').concat([[', fine-tuning for']]));
caption(7, 573, 267, 0.88, epochsLine);
caption(471, 553, 125, 0.88, vsParts('e'));
caption(471, 573, 165, 0.88, [['accuracy gap after ft.']]);
caption(640, 553, 423, 0.88, [['(f) Before and after fine-tuning for 5 epochs:']]);
caption(640, 573, 218, 0.88, ftLine);
</script>
</body>
</html>
